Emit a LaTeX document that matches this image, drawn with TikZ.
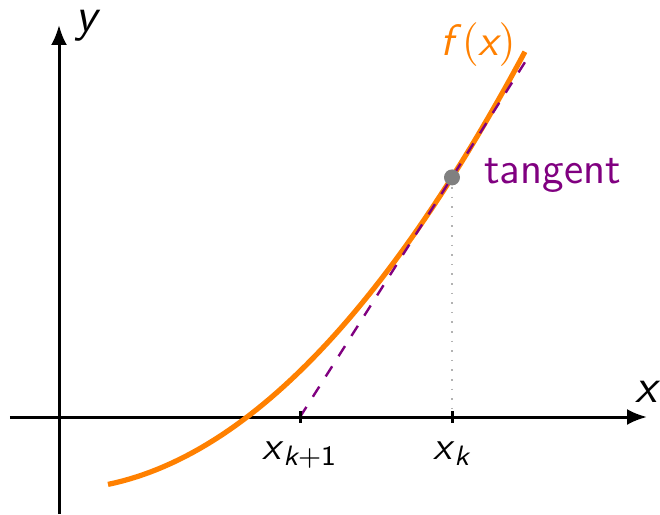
\documentclass[tikz,border=0pt]{standalone}
\usepackage{amsmath}
\usetikzlibrary{arrows.meta, calc}
\definecolor{tanpurple}{RGB}{128,0,128}
\newcommand{\sv}[1]{\textsf{\itshape #1}}

\begin{document}
\begin{tikzpicture}[x=25pt, y=25pt, font=\sffamily\fontsize{11}{13}\selectfont]
    \useasboundingbox (-0.59,-0.97) rectangle (6.01,4.17);
    \coordinate (xl) at (-0.49,0);
    \coordinate (xr) at (5.88,0);
    \coordinate (yb) at (0,-0.97);
    \coordinate (yt) at (0,3.92);
    \draw[-{Latex[length=5pt,width=4pt]}, line width=0.75pt] (xl) -- (xr);
    \draw[-{Latex[length=5pt,width=4pt]}, line width=0.75pt] (yb) -- (yt);
    \node[anchor=south, inner sep=1pt, font=\sffamily\large] (xlab) at (5.89,0.1) {\sv{x}};
    \node[anchor=west, inner sep=1pt, font=\sffamily\large] (ylab) at (0.12,3.91) {\sv{y}};
    % curve
    \draw[orange, line width=1.3pt] plot[domain=0.49:4.66, samples=60] (\x, {0.199*\x*\x+0.013*\x-0.728});
    \node[orange] (flab) at (4.19,3.72) {\sv{f}$(\sv{x})$};
    % tangent at x_k
    \coordinate (xk) at (3.93,0);
    \coordinate (xk1) at (2.41,0);
    \coordinate (pk) at (3.93,2.396);
    \coordinate (tend) at (4.68,3.58);
    \draw[tanpurple, dashed, semithick] (xk1) -- (tend);
    \draw[gray!60, dotted] (pk) -- (xk);
    \fill[gray] (pk) circle (2pt);
    \node[tanpurple, anchor=west] (tlab) at ($(pk)+(0.18,0.02)$) {tangent};
    \foreach \p/\t in {xk/{\sv{x}$_{\sv{k}}$}, xk1/{\sv{x}$_{\sv{k}\textsf{+1}}$}}
        \draw[line width=0.75pt] ($(\p)+(0,0.06)$) -- ($(\p)+(0,-0.06)$) node[below=1pt, font=\sffamily\normalsize] (\p lab) {\t};
\end{tikzpicture}
\end{document}
